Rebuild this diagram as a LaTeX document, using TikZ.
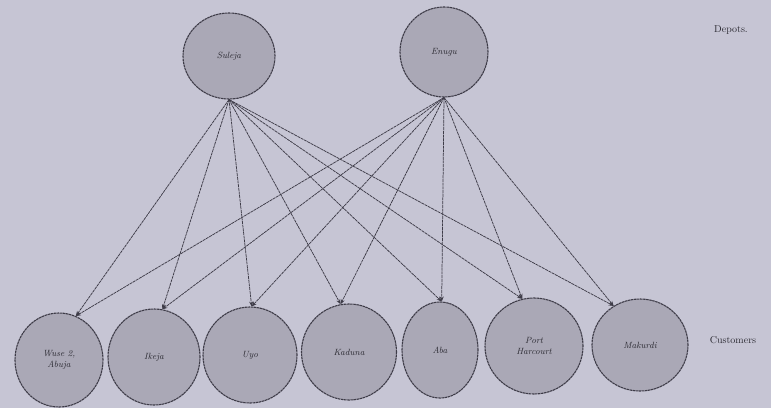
\documentclass[tikz,border=0pt]{standalone}
\usetikzlibrary{shapes.geometric,arrows.meta}
\definecolor{paper}{RGB}{198,197,212}
\definecolor{disc}{RGB}{170,168,182}
\definecolor{ink}{RGB}{62,60,72}
\tikzset{
  place/.style={ellipse, draw=ink, line width=1.1pt, fill=disc,
    dash pattern=on 2.5pt off 0.6pt, inner sep=0pt,
    font=\fontsize{9}{10.5}\selectfont\itshape, text=ink!70!black, align=center},
  link/.style={draw=ink, line width=0.75pt, dash pattern=on 3pt off 0.7pt,
    -{Stealth[length=5pt,width=4pt]}},
  tier/.style={font=\fontsize{10}{12}\selectfont, text=ink!70!black}
}
\begin{document}
\begin{tikzpicture}[x=1pt,y=-1pt]
  \fill[paper] (0,0) rectangle (771,408);
  \useasboundingbox (0,0) rectangle (771,408);

  % depots
  \node[place, minimum width=92, minimum height=86] (sul) at (229,56) {Suleja};
  \node[place, minimum width=88, minimum height=90] (enu) at (444,52) {Enugu};

  % customers
  \node[place, minimum width=88, minimum height=94] (wus) at (59,360) {Wuse 2,\\Abuja};
  \node[place, minimum width=92, minimum height=96] (ike) at (154,357) {Ikeja};
  \node[place, minimum width=94, minimum height=96] (uyo) at (250,355) {Uyo};
  \node[place, minimum width=95, minimum height=96] (kad) at (349,352) {Kaduna};
  \node[place, minimum width=76, minimum height=96] (aba) at (440,350) {Aba};
  \node[place, minimum width=98, minimum height=96] (phc) at (534,346) {Port\\Harcourt};
  \node[place, minimum width=96, minimum height=92] (mak) at (640,345) {Makurdi};

  \node[tier] (dep) at (731,30) {Depots.};
  \node[tier] (cus) at (733,340) {Customers};

  % entry points on each customer
  \coordinate (wusIn) at (wus.69);
  \coordinate (ikeIn) at (ike.80);
  \coordinate (uyoIn) at (uyo.88);
  \coordinate (kadIn) at (kad.100);
  \coordinate (abaIn) at (aba.88);
  \coordinate (phcIn) at (phc.104);
  \coordinate (makIn) at (mak.124);

  % every depot supplies every customer
  \foreach \c in {wus,ike,uyo,kad,aba,phc,mak}{
    \draw[link] (sul.south) -- (\c In);
    \draw[link] (enu.south) -- (\c In);
  }
\end{tikzpicture}
\end{document}
